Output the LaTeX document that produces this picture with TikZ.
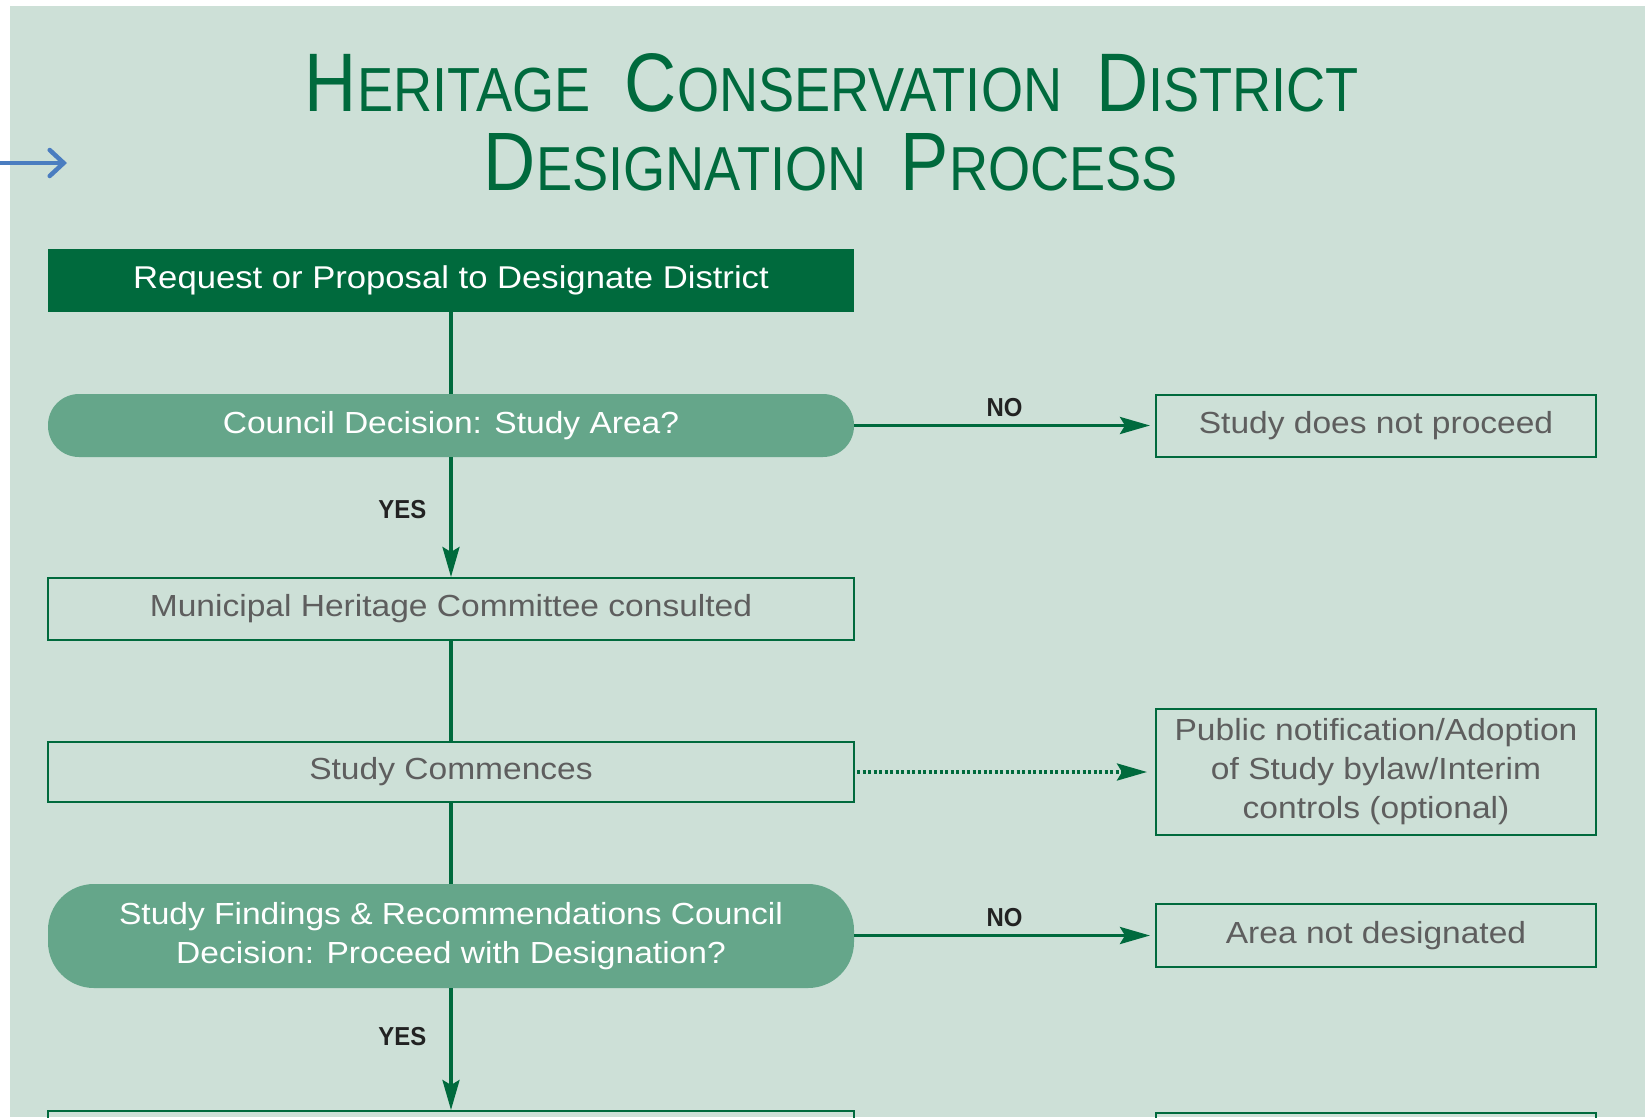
\documentclass[tikz,border=0pt]{standalone}
\usepackage{fontspec}
\usetikzlibrary{arrows.meta}
\newfontfamily\boxfont{Liberation Sans}[FakeStretch=1.1]
\newfontfamily\labelfont{Liberation Sans}[FakeStretch=0.92]
\newfontfamily\titlefont{Liberation Sans}[FakeStretch=0.9]

\definecolor{panel}{HTML}{CDE0D7}
\definecolor{hcgreen}{HTML}{006A3D}
\definecolor{midgreen}{HTML}{65A68A}
\definecolor{boxtext}{HTML}{5E5E5E}
\definecolor{lbltext}{HTML}{222222}
\definecolor{pointer}{HTML}{4A7DC0}

% small-caps style word: large initial, smaller remainder
\newcommand\scword[2]{{\fontsize{80}{80}\selectfont #1}{\fontsize{60}{60}\selectfont #2}}
\newcommand\scgap{\hspace{34pt}}

\tikzset{
  boxtxt/.style={font={\boxfont\fontsize{30.5}{39}\selectfont}, align=center, inner sep=0pt},
  darkbox/.style={boxtxt, fill=hcgreen, text=white, minimum width=806pt, minimum height=63pt},
  decision/.style={boxtxt, fill=midgreen, text=white, minimum width=806pt},
  stepbox/.style={boxtxt, draw=hcgreen, line width=2pt, text=boxtext, minimum width=806pt},
  sidebox/.style={boxtxt, draw=hcgreen, line width=2pt, text=boxtext, minimum width=440pt},
  flow/.style={draw=hcgreen, line width=3.5pt},
  flowarrow/.style={flow, -{Stealth[length=30pt,width=17pt,inset=5pt]}},
  optarrow/.style={draw=hcgreen, line width=3.5pt, dash pattern=on 3pt off 2.5pt,
     -{Stealth[length=30pt,width=17pt,inset=5pt]}},
  lbl/.style={font={\labelfont\bfseries\fontsize{26}{26}\selectfont}, text=lbltext, inner sep=0pt}
}

\begin{document}
\begin{tikzpicture}[x=1pt,y=-1pt]
\useasboundingbox (0,0) rectangle (1649,1117);
\clip (0,0) rectangle (1649,1117);
\fill[white] (0,0) rectangle (1649,1117);
\fill[panel] (10,6) rectangle (1645,1117);

% pointer arrow entering from the left margin
\coordinate (ptrA) at (0,163);
\coordinate (ptrB) at (67,163);
\draw[pointer, line width=4.5pt, -{Straight Barb[length=14pt,width=26pt,line cap=round]}] (ptrA) -- (ptrB);

% title
\node[anchor=south, inner sep=0pt, text=hcgreen] (title1) at (832,113)
  {\resizebox{1054pt}{58pt}{\titlefont\scword{H}{ERITAGE}\scgap\scword{C}{ONSERVATION}\scgap\scword{D}{ISTRICT}}};
\node[anchor=south, inner sep=0pt, text=hcgreen] (title2) at (831,191)
  {\resizebox{694pt}{57pt}{\titlefont\scword{D}{ESIGNATION}\scgap\scword{P}{ROCESS}}};

% main column
\node[darkbox, font={\boxfont\fontsize{31.5}{39}\selectfont}] (req) at (451,280.5) {Request or Proposal to Designate District};
\node[decision, minimum height=63pt, rounded corners=31pt] (council) at (451,425.5) {Council Decision: Study Area?};
\node[stepbox, minimum height=62pt] (municipal) at (451,609) {Municipal Heritage Committee consulted};
\node[stepbox, minimum height=60pt] (commence) at (451,772) {Study Commences};
\node[decision, minimum height=104pt, rounded corners=46pt] (findings) at (451,936)
  {Study Findings \& Recommendations Council\\Decision: Proceed with Designation?};
\node[stepbox, minimum height=80pt] (nextL) at (451,1151) {};

% side column
\node[sidebox, minimum height=62pt] (notproceed) at (1376,425.5) {Study does not proceed};
\node[sidebox, minimum height=126pt] (public) at (1376,772)
  {Public notification/Adoption\\of Study bylaw/Interim\\controls (optional)};
\node[sidebox, minimum height=63pt] (notdesig) at (1376,935.5) {Area not designated};
\node[sidebox, minimum height=80pt] (nextR) at (1376,1153) {};

% connectors
\draw[flow] (req) -- (council);
\draw[flowarrow] (council) -- node[lbl, pos=0.44, left=23pt] {YES} (municipal);
\draw[flow] (municipal) -- (commence);
\draw[flow] (commence) -- (findings);
\draw[flowarrow] (findings) -- node[lbl, pos=0.40, left=23pt] {YES} (nextL);
\draw[flowarrow, shorten >=5pt] (council) -- node[lbl, pos=0.5, above=7pt] {NO} (notproceed);
\draw[flowarrow, shorten >=5pt] (findings.east |- notdesig) -- node[lbl, pos=0.5, above=7pt] {NO} (notdesig);
\draw[optarrow, shorten >=8pt, shorten <=2pt] (commence) -- (public);
\end{tikzpicture}
\end{document}
